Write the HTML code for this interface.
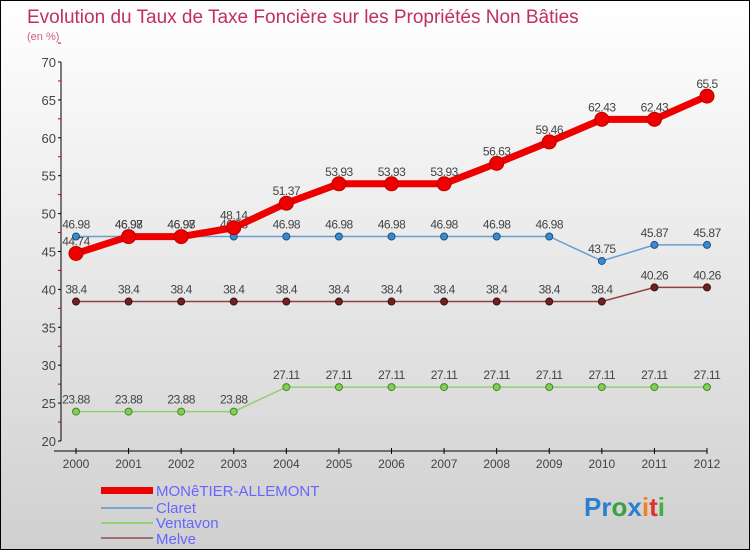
<!DOCTYPE html>
<html><head><meta charset="utf-8"><style>
body{margin:0}
#c{width:748px;height:548px;border:1px solid #000;background:linear-gradient(#fff,#d0d0d0);position:relative;font-family:"Liberation Sans",sans-serif;overflow:hidden}
svg text{font-family:"Liberation Sans",sans-serif}
</style></head><body>
<div id="c">
<svg width="748" height="548" id="s">
<text x="26" y="22" font-size="19" fill="#c0305a">Evolution du Taux de Taxe Foncière sur les Propriétés Non Bâties</text>
<text x="26" y="39" font-size="11" fill="#d06080">(en %)</text>
<g id="axes"></g><g id="series"></g>
<g>
<rect x="100" y="486" width="52" height="7" fill="#e00"/>
<text x="155" y="495" font-size="15" fill="#6666ff">MONêTIER-ALLEMONT</text>
<line x1="100" y1="507" x2="152" y2="507" stroke="#7aa6d0" stroke-width="2"/>
<text x="155" y="512" font-size="15" fill="#6666ff">Claret</text>
<line x1="100" y1="522" x2="152" y2="522" stroke="#90d070" stroke-width="2"/>
<text x="155" y="527" font-size="15" fill="#6666ff">Ventavon</text>
<line x1="100" y1="537" x2="152" y2="537" stroke="#a07070" stroke-width="2"/>
<text x="155" y="543" font-size="15" fill="#6666ff">Melve</text>
</g>
<text x="583" y="515" font-size="26" font-weight="bold"><tspan fill="#2a7fd0">Pr</tspan><tspan fill="#3aa040">o</tspan><tspan fill="#2a7fd0">x</tspan><tspan fill="#f08020">i</tspan><tspan fill="#e03030">t</tspan><tspan fill="#40b040">i</tspan></text>
</svg></div>
<script>
const years=[2000,2001,2002,2003,2004,2005,2006,2007,2008,2009,2010,2011,2012];
const monetier=[44.74,46.97,46.97,48.14,51.37,53.93,53.93,53.93,56.63,59.46,62.43,62.43,65.5];
const claret=[46.98,46.98,46.98,46.98,46.98,46.98,46.98,46.98,46.98,46.98,43.75,45.87,45.87];
const ventavon=[23.88,23.88,23.88,23.88,27.11,27.11,27.11,27.11,27.11,27.11,27.11,27.11,27.11];
const melve=[38.4,38.4,38.4,38.4,38.4,38.4,38.4,38.4,38.4,38.4,38.4,40.26,40.26];
const yTicks=[20,25,30,35,40,45,50,55,60,65,70];
const NS="http://www.w3.org/2000/svg";
const X=i=>75+i*(706-75)/(years.length-1);
const Y=v=>440-(v-20)*(440-61)/50;
function mk(t,a,p){const e=document.createElementNS(NS,t);for(const k in a)e.setAttribute(k,a[k]);p.appendChild(e);return e;}
const ax=document.getElementById('axes');
mk('line',{x1:60,y1:61,x2:60,y2:440,stroke:'#000'},ax);
mk('line',{x1:53,y1:450,x2:706,y2:450,stroke:'#000'},ax);
yTicks.forEach(v=>{
 mk('line',{x1:57,y1:Y(v),x2:60,y2:Y(v),stroke:'#000'},ax);
 mk('line',{x1:57,y1:Y(v+2.5),x2:60,y2:Y(v+2.5),stroke:'#c00'},ax);
 const t=mk('text',{x:55,y:Y(v)+5,'font-size':13,fill:'#444','text-anchor':'end'},ax);t.textContent=v;
 
 
});
years.forEach((y,i)=>{
 mk('line',{x1:X(i),y1:447,x2:X(i),y2:453,stroke:'#000'},ax);
 const t=mk('text',{x:X(i),y:467,'font-size':12,fill:'#444','text-anchor':'middle'},ax);t.textContent=y;
 
 
});
const sg=document.getElementById('series');
function series(name,vals,col,w,r,dot,stroke){
 const g=mk('g',{},sg);
 
 
 const p=mk('polyline',{points:vals.map((v,i)=>X(i)+','+Y(v)).join(' '),fill:'none',stroke:col,'stroke-width':w},g);
 
 
 vals.forEach((v,i)=>{
  const c=mk('circle',{cx:X(i),cy:Y(v),r:r,fill:dot,stroke:stroke,'stroke-width':1},g);
  
  
  const t=mk('text',{x:X(i),y:Y(v)-8,'font-size':12,fill:'#444','text-anchor':'middle','letter-spacing':'-0.5'},g);t.textContent=v;
  
  
 });
}
series('ventavon',ventavon,'#90d070',1.5,3.5,'#80d050','#4a8030');
series('melve',melve,'#904040',1.5,3.5,'#702020','#401010');
series('claret',claret,'#6a9ed0',1.5,3.5,'#3a8ad0','#205080');
series('monetier',monetier,'#e00',7,7,'#e00','#b00');
</script>
</body></html>
